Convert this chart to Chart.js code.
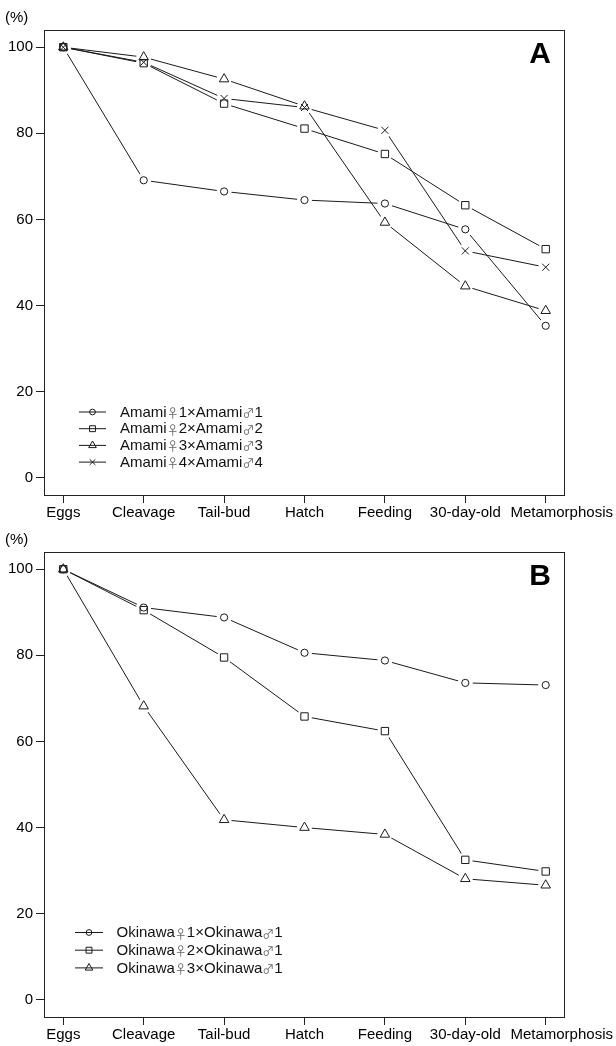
<!DOCTYPE html>
<html><head><meta charset="utf-8">
<script src="https://cdn.jsdelivr.net/npm/chart.js@4/dist/chart.umd.min.js"></script>
<style>
html,body{margin:0;padding:0;background:#fff;}
#wrap{position:relative;width:616px;height:1046px;overflow:hidden;}
canvas{position:absolute;left:0;display:block;}
</style></head><body>
<div id="wrap">
<canvas id="cA" width="616" height="522" style="top:0"></canvas>
<canvas id="cB" width="616" height="524" style="top:522px"></canvas>
</div>
<script>
// ---- data ----
const categories = ['Eggs', 'Cleavage', 'Tail-bud', 'Hatch', 'Feeding', '30-day-old', 'Metamorphosis'];
const yTicks = [0, 20, 40, 60, 80, 100];

const labelsA = ['Amami\u26401\u00d7Amami\u26421', 'Amami\u26402\u00d7Amami\u26422', 'Amami\u26403\u00d7Amami\u26423', 'Amami\u26404\u00d7Amami\u26424'];
const amami1 = [100, 69.1, 66.5, 64.5, 63.7, 57.7, 35.3];
const amami2 = [100, 96.3, 86.9, 81.1, 75.2, 63.3, 53.1];
const amami3 = [100, 97.7, 92.6, 86.3, 59.3, 44.5, 38.8];
const amami4 = [100, 96.5, 88.1, 86.0, 80.7, 52.7, 48.9];

const labelsB = ['Okinawa\u26401\u00d7Okinawa\u26421', 'Okinawa\u26402\u00d7Okinawa\u26421', 'Okinawa\u26403\u00d7Okinawa\u26421'];
const okinawa1 = [100, 91.1, 88.8, 80.6, 78.8, 73.6, 73.1];
const okinawa2 = [100, 90.5, 79.5, 65.8, 62.4, 32.5, 29.8];
const okinawa3 = [100, 68.2, 41.8, 40.0, 38.4, 28.1, 26.6];

// ---- styles ----
const FONT = '"Liberation Sans", Arial, Helvetica, sans-serif';
const SYMFONT = '12px "Noto Sans CJK JP", "DejaVu Sans", sans-serif';
const INK = '#1a1a1a';
const markerStyles = ['circle', 'rect', 'triangle', 'crossRot'];
const markerRadii = {circle: 3.6, rect: 5.2, triangle: 5.5, crossRot: 5};

function drawMarker(ctx, style, r, x, y) {
  ctx.save();
  ctx.strokeStyle = INK; ctx.lineWidth = 1;
  ctx.beginPath();
  if (style === 'circle') {
    ctx.arc(x, y, r, 0, Math.PI * 2);
  } else if (style === 'rect') {
    const s = r * Math.SQRT1_2;
    ctx.rect(x - s, y - s, 2 * s, 2 * s);
  } else if (style === 'triangle') {
    let a = 0;
    ctx.moveTo(x + Math.sin(a) * r, y - Math.cos(a) * r);
    a += 2 * Math.PI / 3; ctx.lineTo(x + Math.sin(a) * r, y - Math.cos(a) * r);
    a += 2 * Math.PI / 3; ctx.lineTo(x + Math.sin(a) * r, y - Math.cos(a) * r);
    ctx.closePath();
  } else if (style === 'crossRot') {
    const s = r * Math.SQRT1_2;
    ctx.moveTo(x - s, y - s); ctx.lineTo(x + s, y + s);
    ctx.moveTo(x - s, y + s); ctx.lineTo(x + s, y - s);
  }
  ctx.stroke();
  ctx.restore();
}

function drawMixedText(ctx, text, x, y) {
  const parts = text.split(/([\u2640\u2642])/).filter(s => s.length);
  let cx = x;
  parts.forEach(p => {
    const sym = /^[\u2640\u2642]$/.test(p);
    ctx.font = sym ? SYMFONT : '15px ' + FONT;
    ctx.fillStyle = sym ? '#666' : '#111';
    ctx.fillText(p, cx, sym ? y + 1 : y);
    cx += ctx.measureText(p).width;
  });
}

function makeChart(id, H, labels, series, letter, legendCfg) {
  const pts = series.map(arr => arr.map((v, i) => ({x: i + 1, y: v})));
  const datasets = [];
  pts.forEach((p, k) => datasets.push({
    label: labels[k], data: p, showLine: true, pointRadius: 0,
    borderColor: INK, borderWidth: 1, order: 3
  }));
  pts.forEach((p) => datasets.push({
    data: p, showLine: false, pointRadius: 7.5, pointStyle: 'circle',
    pointBackgroundColor: '#ffffff', pointBorderColor: '#ffffff', pointBorderWidth: 0, order: 2
  }));
  pts.forEach((p, k) => datasets.push({
    data: p, showLine: false, pointStyle: markerStyles[k], pointRadius: markerRadii[markerStyles[k]],
    pointBackgroundColor: 'rgba(0,0,0,0)', pointBorderColor: INK, pointBorderWidth: 1, order: 1
  }));

  const decor = {
    id: 'decor' + id,
    beforeDraw(chart) {
      try {
        const items = chart.scales.x.getLabelItems();
        if (items && !items._shifted) {
          const it = items[items.length - 1];
          if (it && it.options && it.options.translation) it.options.translation[0] += 16;
          items._shifted = true;
        }
      } catch (e) {}
    },
    afterDraw(chart) {
      const ctx = chart.ctx, a = chart.chartArea;
      ctx.save();
      ctx.strokeStyle = '#222'; ctx.lineWidth = 1;
      ctx.strokeRect(Math.round(a.left) + 0.5, Math.round(a.top) + 0.5, Math.round(a.right - a.left) - 1, Math.round(a.bottom - a.top));
      ctx.fillStyle = '#000';
      ctx.font = '15px ' + FONT;
      ctx.textAlign = 'left'; ctx.textBaseline = 'middle';
      ctx.fillText('(%)', 5, 18);
      ctx.font = 'bold 30px ' + FONT;
      ctx.textAlign = 'right'; ctx.textBaseline = 'alphabetic';
      ctx.fillText(letter, 551, 63);
      // legend
      ctx.textAlign = 'left'; ctx.textBaseline = 'middle';
      labels.forEach((lab, k) => {
        const y = legendCfg.y0 + k * legendCfg.dy;
        ctx.strokeStyle = INK; ctx.lineWidth = 1;
        ctx.beginPath(); ctx.moveTo(legendCfg.x0, y + 0.5); ctx.lineTo(legendCfg.x1, y + 0.5); ctx.stroke();
        const st = markerStyles[k];
        drawMarker(ctx, st, markerRadii[st] * 0.8, (legendCfg.x0 + legendCfg.x1) / 2, y + 0.5);
        drawMixedText(ctx, lab, legendCfg.tx, y + 1);
      });
      ctx.restore();
    }
  };

  return new Chart(document.getElementById(id), {
    type: 'scatter',
    data: {datasets},
    options: {
      responsive: false, animation: false, devicePixelRatio: 1, events: [],
      layout: {padding: {top: 30, right: 51, left: 0, bottom: 0}},
      plugins: {legend: {display: false}, tooltip: {enabled: false}},
      scales: {
        x: {
          type: 'linear', min: 0.76, max: 7.24,
          afterBuildTicks: s => { s.ticks = categories.map((c, i) => ({value: i + 1})); },
          afterFit: s => { s.height = H - 495; },
          ticks: {callback: (v, i) => categories[i], autoSkip: false, maxRotation: 0, minRotation: 0,
                  color: '#000', font: {family: FONT, size: 15}, padding: 1},
          grid: {display: true, drawOnChartArea: false, drawTicks: true, tickLength: 8, color: '#222', lineWidth: 1},
          border: {display: false}
        },
        y: {
          type: 'linear', min: -4, max: 104,
          afterBuildTicks: s => { s.ticks = yTicks.map(v => ({value: v})); },
          afterFit: s => { s.width = 44; },
          ticks: {color: '#000', font: {family: FONT, size: 15}, padding: 3},
          grid: {display: true, drawOnChartArea: false, drawTicks: true, tickLength: 8, color: '#222', lineWidth: 1},
          border: {display: false}
        }
      }
    },
    plugins: [decor]
  });
}

makeChart('cA', 522, labelsA, [amami1, amami2, amami3, amami4], 'A', {x0: 79, x1: 106, tx: 120, y0: 411.5, dy: 16.7});
makeChart('cB', 524, labelsB, [okinawa1, okinawa2, okinawa3], 'B', {x0: 75, x1: 103, tx: 116.5, y0: 410, dy: 17.7});
</script>
</body></html>
